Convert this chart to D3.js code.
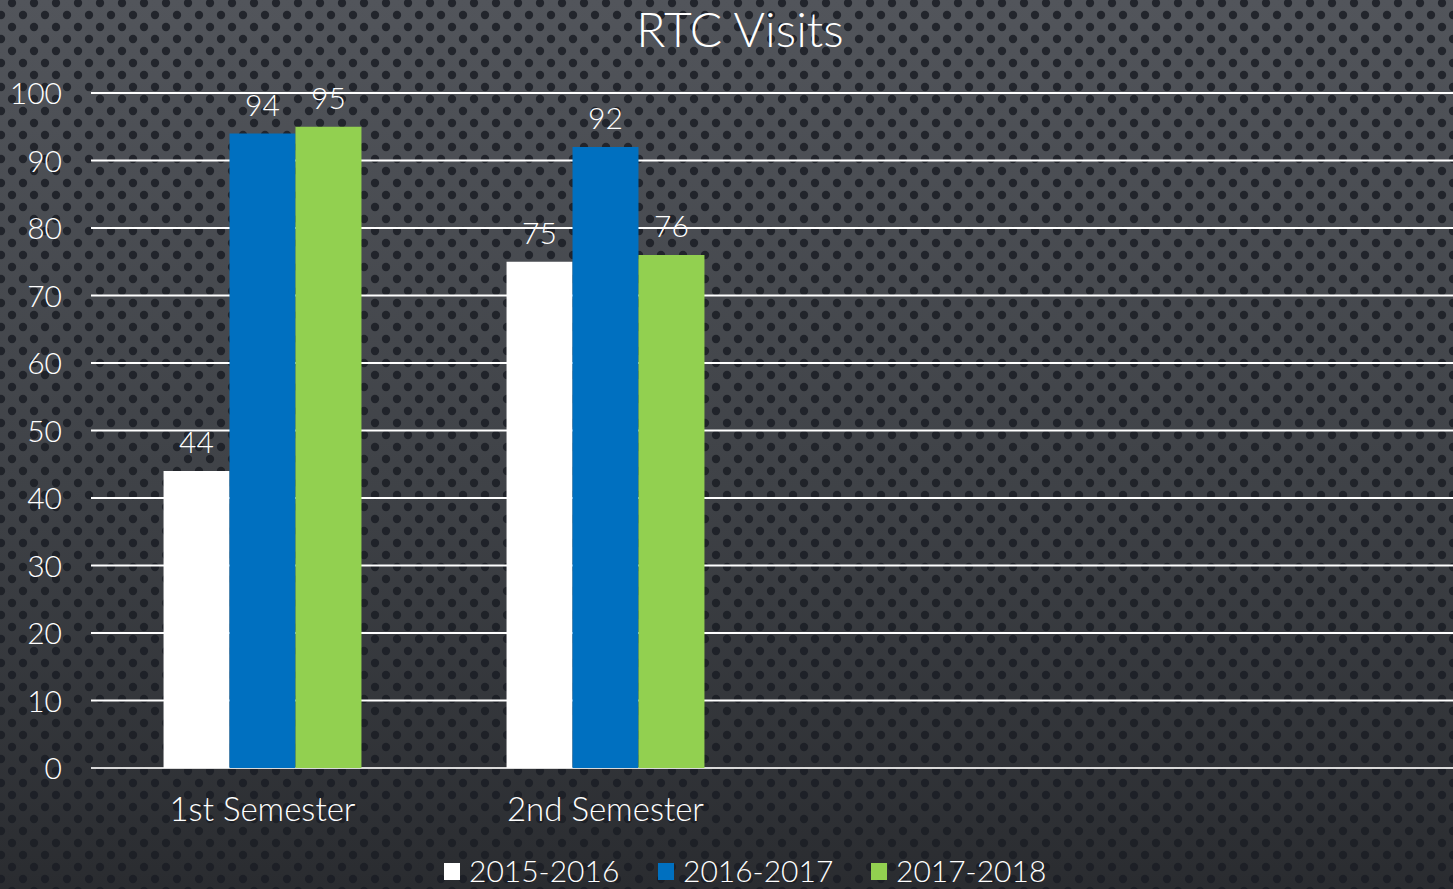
<!DOCTYPE html>
<html>
<head>
<meta charset="utf-8">
<script src="https://cdn.jsdelivr.net/npm/d3@7"></script>
<style>
  html, body { margin: 0; padding: 0; background: #2b2d31; overflow: hidden; }
  svg { display: block; }
  svg text { font-family: "Lato", "Noto Sans", sans-serif; font-weight: 300; }
</style>
</head>
<body>
<svg id="chart" width="1453" height="889"></svg>
<script>
// chart data
const categories = ["1st Semester", "2nd Semester", "", ""];
const seriesNames = ["2015-2016", "2016-2017", "2017-2018"];
const values2015 = [44, 75, null, null];
const values2016 = [94, 92, null, null];
const values2017 = [95, 76, null, null];
const yTicks = [0, 10, 20, 30, 40, 50, 60, 70, 80, 90, 100];
const colors = ["#ffffff", "#0070c0", "#92d050"];

const W = 1453, H = 889;
const margin = {top: 93, left: 91, bottom: 121};
const svg = d3.select("#chart");

// background: dark gradient + dot pattern
const defs = svg.append("defs");
const grad = defs.append("linearGradient").attr("id", "bg").attr("x1", 0).attr("y1", 0).attr("x2", 0).attr("y2", 1);
grad.append("stop").attr("offset", "0%").attr("stop-color", "#52555b");
grad.append("stop").attr("offset", "55%").attr("stop-color", "#3f4247");
grad.append("stop").attr("offset", "100%").attr("stop-color", "#2a2c30");
const pat = defs.append("pattern").attr("id", "dots").attr("patternUnits", "userSpaceOnUse")
  .attr("width", 22).attr("height", 24).attr("x", 1).attr("y", 3);
[[11, 0], [11, 24], [0, 12], [22, 12]].forEach(p => {
  pat.append("circle").attr("cx", p[0]).attr("cy", p[1]).attr("r", 4.2).attr("fill", "#1a1d24");
});
svg.append("rect").attr("width", W).attr("height", H).attr("fill", "url(#bg)");
svg.append("rect").attr("width", W).attr("height", H).attr("fill", "url(#dots)").attr("opacity", 0.85);

// scales
const x = d3.scaleBand().domain(d3.range(categories.length))
  .range([margin.left, margin.left + 343 * categories.length])
  .paddingInner(0.423).paddingOuter(0.2115);
const series = [values2015, values2016, values2017];
const xInner = d3.scaleBand().domain(d3.range(series.length)).range([0, x.bandwidth()]);
const y = d3.scaleLinear().domain([0, 100]).range([H - margin.bottom, margin.top]);

// gridlines
svg.append("g").selectAll("line").data(yTicks).join("line")
  .attr("x1", margin.left).attr("x2", W)
  .attr("y1", d => y(d)).attr("y2", d => y(d))
  .attr("stroke", d => d === 0 ? "#d9d9d9" : "#ffffff").attr("stroke-width", 2);

// y axis labels
const yAxis = d3.axisLeft(y).tickValues(yTicks).tickSize(0).tickPadding(0);
const yg = svg.append("g").attr("transform", "translate(62,0)").call(yAxis);
yg.select(".domain").remove();
yg.selectAll("text").attr("fill", "#ffffff").style("font-size", "30px").attr("dy", "0.36em");

// bars
const rows = [];
series.forEach((vals, s) => vals.forEach((v, c) => { if (v != null) rows.push({s, c, v}); }));
svg.append("g").selectAll("rect").data(rows).join("rect")
  .attr("x", d => x(d.c) + xInner(d.s))
  .attr("width", xInner.bandwidth())
  .attr("y", d => y(d.v))
  .attr("height", d => y(0) - y(d.v))
  .attr("fill", d => colors[d.s]);

// value labels
svg.append("g").selectAll("text").data(rows).join("text")
  .attr("x", d => x(d.c) + xInner(d.s) + xInner.bandwidth() / 2)
  .attr("y", d => y(d.v) - 18)
  .attr("text-anchor", "middle")
  .attr("fill", "#ffffff")
  .style("font-size", "30px")
  .text(d => d.v);

// category labels
const xAxis = d3.axisBottom(x).tickFormat(i => categories[i]).tickSize(0).tickPadding(0);
const xg = svg.append("g").attr("transform", "translate(0,821)").call(xAxis);
xg.select(".domain").remove();
xg.selectAll("text").attr("fill", "#ffffff").attr("dy", 0).style("font-size", "33px");

// title
svg.append("text").attr("x", 740).attr("y", 47).attr("text-anchor", "middle")
  .attr("fill", "#ffffff").style("font-size", "48px").text("RTC Visits");

// legend
const legendX = [444, 658, 871];
const lg = svg.append("g").selectAll("g").data(seriesNames).join("g")
  .attr("transform", (d, i) => `translate(${legendX[i]},0)`);
lg.append("rect").attr("x", 0).attr("y", 863).attr("width", 16).attr("height", 17)
  .attr("fill", (d, i) => colors[i]);
lg.append("text").attr("x", 25).attr("y", 882).attr("fill", "#ffffff")
  .style("font-size", "30px").text(d => d);
</script>
</body>
</html>
